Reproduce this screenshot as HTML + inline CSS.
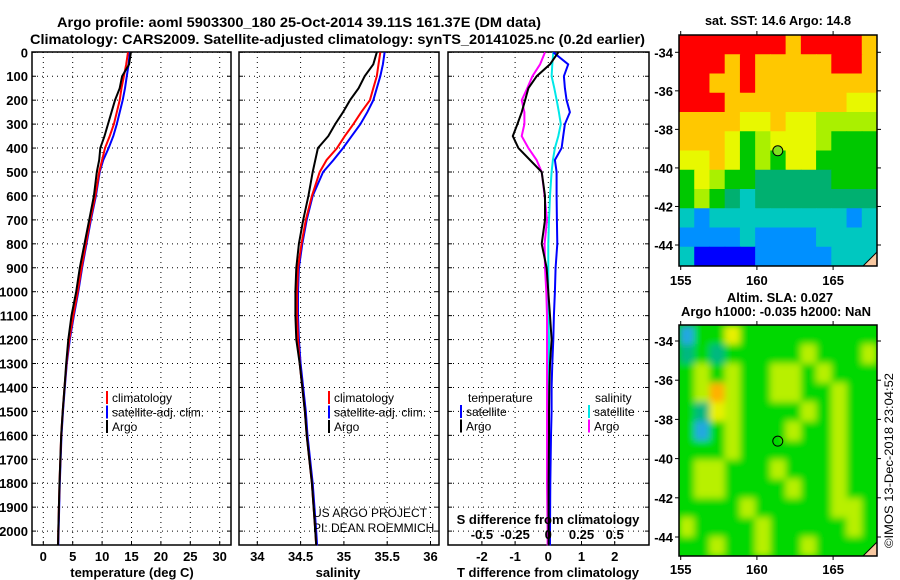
<!DOCTYPE html>
<html><head><meta charset="utf-8">
<style>
html,body{margin:0;padding:0;background:#fff;}
svg{display:block;font-family:"Liberation Sans",sans-serif;}
.b{font-weight:bold;font-size:13px;}
.t{font-weight:bold;font-size:14px;}
.l{font-size:12px;}
</style></head>
<body>
<svg id="chart" width="900" height="580" viewBox="0 0 900 580" xmlns="http://www.w3.org/2000/svg">
<text class="t" x="57" y="27" textLength="484" lengthAdjust="spacingAndGlyphs">Argo profile: aoml 5903300_180 25-Oct-2014 39.11S 161.37E (DM data)</text>
<text class="t" x="30" y="44" textLength="615" lengthAdjust="spacingAndGlyphs">Climatology: CARS2009. Satellite-adjusted climatology: synTS_20141025.nc (0.2d earlier)</text>
<text class="b" x="778" y="25" text-anchor="middle" textLength="146" lengthAdjust="spacingAndGlyphs">sat. SST: 14.6 Argo: 14.8</text>
<text class="b" x="780" y="302" text-anchor="middle">Altim. SLA: 0.027</text>
<text class="b" x="776" y="316" text-anchor="middle">Argo h1000: -0.035 h2000: NaN</text>
<g id="g"></g>
<text x="893" y="548" transform="rotate(-90 893 548)" font-size="12" textLength="175" lengthAdjust="spacingAndGlyphs">©IMOS 13-Dec-2018 23:04:52</text>
</svg>
<script>
const depths=[0,50,100,150,200,250,300,350,400,450,500,600,700,800,900,1000,1100,1200,1300,1400,1500,1600,1800,2000,2060];
const tempArgo=[14.9,14.6,13.4,13.0,12.2,11.6,11.0,10.4,9.7,9.5,9.1,8.6,7.8,7.0,6.2,5.6,4.8,4.25,3.9,3.6,3.3,3.05,2.75,2.55,2.5];
const tempClim=[14.4,14.1,13.7,13.3,13.0,12.5,12.0,11.3,10.5,10.0,9.5,8.85,8.0,7.25,6.5,5.85,5.1,4.4,3.95,3.6,3.3,3.05,2.75,2.55,2.5];
const tempSat=[14.7,14.5,14.2,13.9,13.5,13.0,12.5,11.9,11.1,10.2,9.6,8.95,8.1,7.35,6.6,5.95,5.2,4.5,4.0,3.65,3.35,3.1,2.8,2.6,2.55];
const salArgo=[35.38,35.34,35.24,35.17,35.07,34.99,34.90,34.82,34.70,34.67,34.64,34.59,34.53,34.48,34.45,34.44,34.44,34.45,34.49,34.52,34.55,34.57,34.63,34.67,34.68];
const salClim=[35.42,35.40,35.38,35.34,35.30,35.20,35.11,35.01,34.92,34.80,34.72,34.63,34.56,34.51,34.47,34.46,34.46,34.47,34.49,34.52,34.55,34.57,34.63,34.67,34.68];
const salSat=[35.47,35.45,35.42,35.38,35.34,35.27,35.19,35.09,34.99,34.88,34.76,34.64,34.57,34.52,34.48,34.47,34.47,34.48,34.50,34.53,34.56,34.58,34.64,34.68,34.69];
const dTsat=[0.15,0.6,0.47,0.5,0.55,0.65,0.5,0.45,0.4,0.2,0.25,0.25,0.26,0.27,0.22,0.2,0.17,0.15,0.12,0.1,0.1,0.08,0.06,0.05,0.05];
const dTargo=[0.3,0.05,-0.35,-0.6,-0.7,-0.8,-0.93,-1.07,-0.9,-0.55,-0.2,-0.1,-0.1,-0.2,-0.05,0,0.05,0.1,0.05,0.03,0.02,0.02,0.01,0.01,0.01];
const dSsat=[0.038,0.03,0.025,0.045,0.063,0.08,0.094,0.075,0.05,0.035,0.025,0.0125,0.005,0,0,0,0,0.005,0.005,0.005,0.005,0.005,0.005,0.005,0.005];
const dSargo=[-0.025,-0.062,-0.12,-0.158,-0.2,-0.18,-0.18,-0.2,-0.15,-0.088,-0.05,-0.028,-0.01,-0.028,-0.025,-0.015,-0.01,-0.01,-0.01,-0.01,-0.01,-0.01,-0.01,-0.005,-0.005];
const depthTicks=[0,100,200,300,400,500,600,700,800,900,1000,1100,1200,1300,1400,1500,1600,1700,1800,1900,2000];
const tempTicks=[0,5,10,15,20,25,30];
const salTicks=[34,34.5,35,35.5,36];
const salTickLabels=["34","34.5","35","35.5","36"];
const dTTicks=[-2,-1,0,1,2];
const dSTicks=[-0.5,-0.25,0,0.25,0.5];
const dSTickLabels=["-0.5","-0.25","0","0.25","0.5"];
const latTicks=[-34,-36,-38,-40,-42,-44];
const lonTicks=[155,160,165];
const sstGrid=[
[8,8,8,8,8,8,8,7,8,8,8,8,7],
[8,8,8,7,8,7,7,7,7,7,8,8,7],
[8,8,7,7,8,7,7,7,7,7,7,7,7],
[8,8,8,7,7,7,7,7,7,7,7,6,6],
[7,7,7,7,6,6,7,6,6,5,5,5,5],
[7,7,7,6,4,5,6,6,6,5,4,4,4],
[6,6,7,6,4,5,4,6,6,4,4,4,4],
[4,6,5,4,4,3,3,3,3,3,4,4,4],
[4,5,4,3,2,3,3,3,3,3,3,3,3],
[2,1,2,2,2,2,2,2,2,2,2,1,2],
[1,1,1,1,2,1,1,1,1,2,2,2,2],
[2,0,0,0,0,1,1,1,1,1,2,2,2]];
const slaGrid=[
[0,2,2,4,2,2,2,2,2,2,2,2,2],
[1,2,1,2,2,2,2,2,3,2,2,2,3],
[2,3,2,3,2,2,3,3,2,3,2,2,2],
[2,3,5,3,2,2,3,3,2,2,3,2,2],
[2,1,4,3,2,2,2,2,3,2,3,2,2],
[2,0,2,3,2,2,2,3,2,2,3,2,2],
[2,2,2,3,2,2,2,2,2,2,3,2,2],
[2,3,3,2,2,2,3,2,2,2,3,2,2],
[2,3,3,2,2,2,2,3,2,2,3,2,2],
[2,2,2,2,3,2,2,2,2,2,3,3,2],
[3,2,2,2,2,3,2,2,2,2,2,3,2],
[2,2,3,2,2,3,2,2,3,2,2,2,2]];
const sstColors=["#0000ff","#0090ff","#00c8c0","#00b070","#00c800","#aaf000","#e8f800","#ffc800","#ff0000"];
const slaColors=["#20a8e0","#00b880","#00d800","#b8f000","#e8f000","#ffb000"];
const argoLon=161.37, argoLat=-39.11;

const NS="http://www.w3.org/2000/svg";
const G=document.getElementById('g');
function mk(tag,attrs,parent){const e=document.createElementNS(NS,tag);for(const k in attrs)e.setAttribute(k,attrs[k]);(parent||G).appendChild(e);return e;}
function txt(x,y,s,cls,anchor,parent){const e=mk('text',{x:x,y:y,class:cls,'text-anchor':anchor||'middle'},parent);e.textContent=s;return e;}
const yD=d=>52.3+d*0.2394;
const BOT=545, TOP=52;
const xT=v=>43.3+v*5.88;
const xS=v=>257.3+(v-34)*86.6;
const xDT=v=>548.3+v*33.2;
const xDS=v=>548.3+v*132.8;

function panel(name,x0,x1,xticks,xf,xlabels,ylabels){
  const g=mk('g',{});
  
  
  depthTicks.forEach(d=>{const l=mk('line',{x1:x0,x2:x1,y1:yD(d),y2:yD(d),stroke:'#000','stroke-width':1,'stroke-dasharray':'1 4'},g);
    
    mk('line',{x1:x0,x2:x0+4,y1:yD(d),y2:yD(d),stroke:'#000'},g);mk('line',{x1:x1-4,x2:x1,y1:yD(d),y2:yD(d),stroke:'#000'},g);});
  xticks.forEach((v,i)=>{const X=xf(v);const l=mk('line',{x1:X,x2:X,y1:TOP,y2:BOT,stroke:'#000','stroke-dasharray':'1 4'},g);
    
    mk('line',{x1:X,x2:X,y1:BOT-4,y2:BOT,stroke:'#000'},g);
    if(xlabels){const t=txt(X,561,xlabels[i],'b','middle',g);}});
  if(ylabels){depthTicks.forEach(d=>{const t=txt(28,yD(d)+5,String(d),'b','end',g);});}
  const r=mk('rect',{x:x0,y:TOP,width:x1-x0,height:BOT-TOP,fill:'none',stroke:'#000','stroke-width':1.5},g);
  
  return g;
}
function series(g,vals,xf,color,name){
  const pts=vals.map((v,i)=>xf(v).toFixed(1)+','+yD(depths[i]).toFixed(1)).join(' ');
  const p=mk('polyline',{points:pts,fill:'none',stroke:color,'stroke-width':2},g);
  
  
}
function legend(g,x,y,items){
  items.forEach((it,i)=>{const yy=y+i*14.5;
    if(it[1])mk('rect',{x:x,y:yy-11,width:2,height:13,fill:it[1]},g);
    const t=txt(x+6,yy,it[0],'l','start',g);});
}
const p1=panel('temperature-panel',32,231,tempTicks,xT,tempTicks.map(String),true);
series(p1,tempSat,xT,'#0000ff','temp-satellite-line');
series(p1,tempClim,xT,'#ff0000','temp-climatology-line');
series(p1,tempArgo,xT,'#000','temp-argo-line');
legend(p1,106,402,[['climatology','#f00'],['satellite-adj. clim.','#00f'],['Argo','#000']]);
let t=txt(132,577,'temperature (deg C)','b','middle',p1);
const p2=panel('salinity-panel',239,439,salTicks,xS,salTickLabels,false);
series(p2,salSat,xS,'#0000ff','sal-satellite-line');
series(p2,salClim,xS,'#ff0000','sal-climatology-line');
series(p2,salArgo,xS,'#000','sal-argo-line');
legend(p2,328,402,[['climatology','#f00'],['satellite-adj. clim.','#00f'],['Argo','#000']]);
t=txt(338,577,'salinity','b','middle',p2);
t=txt(313,517,'US ARGO PROJECT','l','start',p2);
t=txt(313,532,'PI: DEAN ROEMMICH','l','start',p2);
const p3=panel('difference-panel',448,649,dTTicks,xDT,dTTicks.map(String),false);
series(p3,dSsat,xDS,'#00e8e8','sdiff-satellite-line');
series(p3,dSargo,xDS,'#ff00ff','sdiff-argo-line');
series(p3,dTsat,xDT,'#0000ff','tdiff-satellite-line');
series(p3,dTargo,xDT,'#000','tdiff-argo-line');
t=txt(468,402,'temperature','l','start',p3);
t=txt(595,402,'salinity','l','start',p3);
legend(p3,460,416,[['satellite','#00f'],['Argo','#000']]);
legend(p3,588,416,[['satellite','#00e8e8'],['Argo','#f0f']]);
t=txt(548,524,'S difference from climatology','b','middle',p3);
dSTicks.forEach((v,i)=>{const e=txt(xDS(v),539,dSTickLabels[i],'b','middle',p3);});
t=txt(548,577,'T difference from climatology','b','middle',p3);

function mapPanel(name,grid,colors,x0,y0,x1,y1,latFn,blur,labelY){
  const lonF=v=>680.7+(v-155)*15.24;
  const g=mk('g',{});
  
  
  const clipId=name+'-clip';
  const cp=mk('clipPath',{id:clipId},g);mk('rect',{x:x0,y:y0,width:x1-x0,height:y1-y0},cp);
  if(blur){const f=mk('filter',{id:name+'-blur',x:'-5%',y:'-5%',width:'110%',height:'110%'},g);mk('feGaussianBlur',{stdDeviation:3.5},f);}
  const inner=mk('g',{'clip-path':'url(#'+clipId+')'},g);
  mk('rect',{x:x0,y:y0,width:x1-x0,height:y1-y0,fill:colors[2]},inner);
  const cells=mk('g',blur?{filter:'url(#'+name+'-blur)'}:{},inner);
  const rows=grid.length, cols=grid[0].length;
  const cw=(x1-x0)/cols, ch=(y1-y0)/rows;
  grid.forEach((row,r)=>row.forEach((v,c)=>{
    const e=mk('rect',{x:(x0+c*cw).toFixed(2),y:(y0+r*ch).toFixed(2),width:(cw+0.6).toFixed(2),height:(ch+0.6).toFixed(2),fill:colors[v]},cells);
    
    
  }));
  mk('polygon',{points:`${x1-14},${y1} ${x1},${y1-14} ${x1},${y1}`,fill:'#f8c8a0',stroke:'#000'},inner);
  const dot=mk('circle',{cx:lonF(argoLon),cy:latFn(argoLat),r:5,fill:blur?'none':'#80e020',stroke:'#000','stroke-width':1},g);
  
  
  latTicks.forEach(v=>{const Y=latFn(v);mk('line',{x1:x0-4,x2:x0,y1:Y,y2:Y,stroke:'#000'},g);mk('line',{x1:x1,x2:x1+4,y1:Y,y2:Y,stroke:'#000'},g);
    const e=txt(x0-6,Y+5,String(v),'b','end',g);});
  lonTicks.forEach(v=>{const X=lonF(v);mk('line',{x1:X,x2:X,y1:y1,y2:y1+4,stroke:'#000'},g);mk('line',{x1:X,x2:X,y1:y0-4,y2:y0,stroke:'#000'},g);
    const e=txt(X,labelY,String(v),'b','middle',g);});
  const fr=mk('rect',{x:x0,y:y0,width:x1-x0,height:y1-y0,fill:'none',stroke:'#000','stroke-width':1.5},g);
  
}
mapPanel('sst-map',sstGrid,sstColors,679,35,877,266,v=>52.3+(-34-v)*19.27,false,285);
mapPanel('sla-map',slaGrid,slaColors,679,325,877,556,v=>341+(-34-v)*19.6,true,574);
</script>
</body></html>
